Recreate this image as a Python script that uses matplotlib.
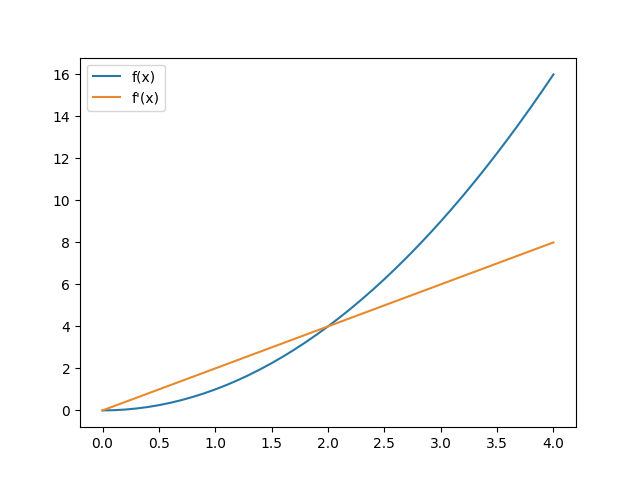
import matplotlib
matplotlib.use("Agg")
import matplotlib.pyplot as plt

# values
x_vals = [0.0, 0.1, 0.2, 0.3, 0.4, 0.5, 0.6, 0.7, 0.8, 0.9, 1.0,
          1.1, 1.2, 1.3, 1.4, 1.5, 1.6, 1.7, 1.8, 1.9, 2.0,
          2.1, 2.2, 2.3, 2.4, 2.5, 2.6, 2.7, 2.8, 2.9, 3.0,
          3.1, 3.2, 3.3, 3.4, 3.5, 3.6, 3.7, 3.8, 3.9, 4.0]
f_vals = [0.0, 0.01, 0.04, 0.09, 0.16, 0.25, 0.36, 0.49, 0.64, 0.81, 1.0,
          1.21, 1.44, 1.69, 1.96, 2.25, 2.56, 2.89, 3.24, 3.61, 4.0,
          4.41, 4.84, 5.29, 5.76, 6.25, 6.76, 7.29, 7.84, 8.41, 9.0,
          9.61, 10.24, 10.89, 11.56, 12.25, 12.96, 13.69, 14.44, 15.21, 16.0]
df_vals = [0.0, 0.2, 0.4, 0.6, 0.8, 1.0, 1.2, 1.4, 1.6, 1.8, 2.0,
           2.2, 2.4, 2.6, 2.8, 3.0, 3.2, 3.4, 3.6, 3.8, 4.0,
           4.2, 4.4, 4.6, 4.8, 5.0, 5.2, 5.4, 5.6, 5.8, 6.0,
           6.2, 6.4, 6.6, 6.8, 7.0, 7.2, 7.4, 7.6, 7.8, 8.0]
labels = ["f(x)", "f'(x)"]

fig, ax = plt.subplots(figsize=(6.4, 4.8), dpi=100)
ax.plot(x_vals, f_vals, color="#2678a8", label=labels[0])
ax.plot(x_vals, df_vals, color="#e8892c", label=labels[1])
ax.legend(loc="upper left")
fig.savefig("out.png")
